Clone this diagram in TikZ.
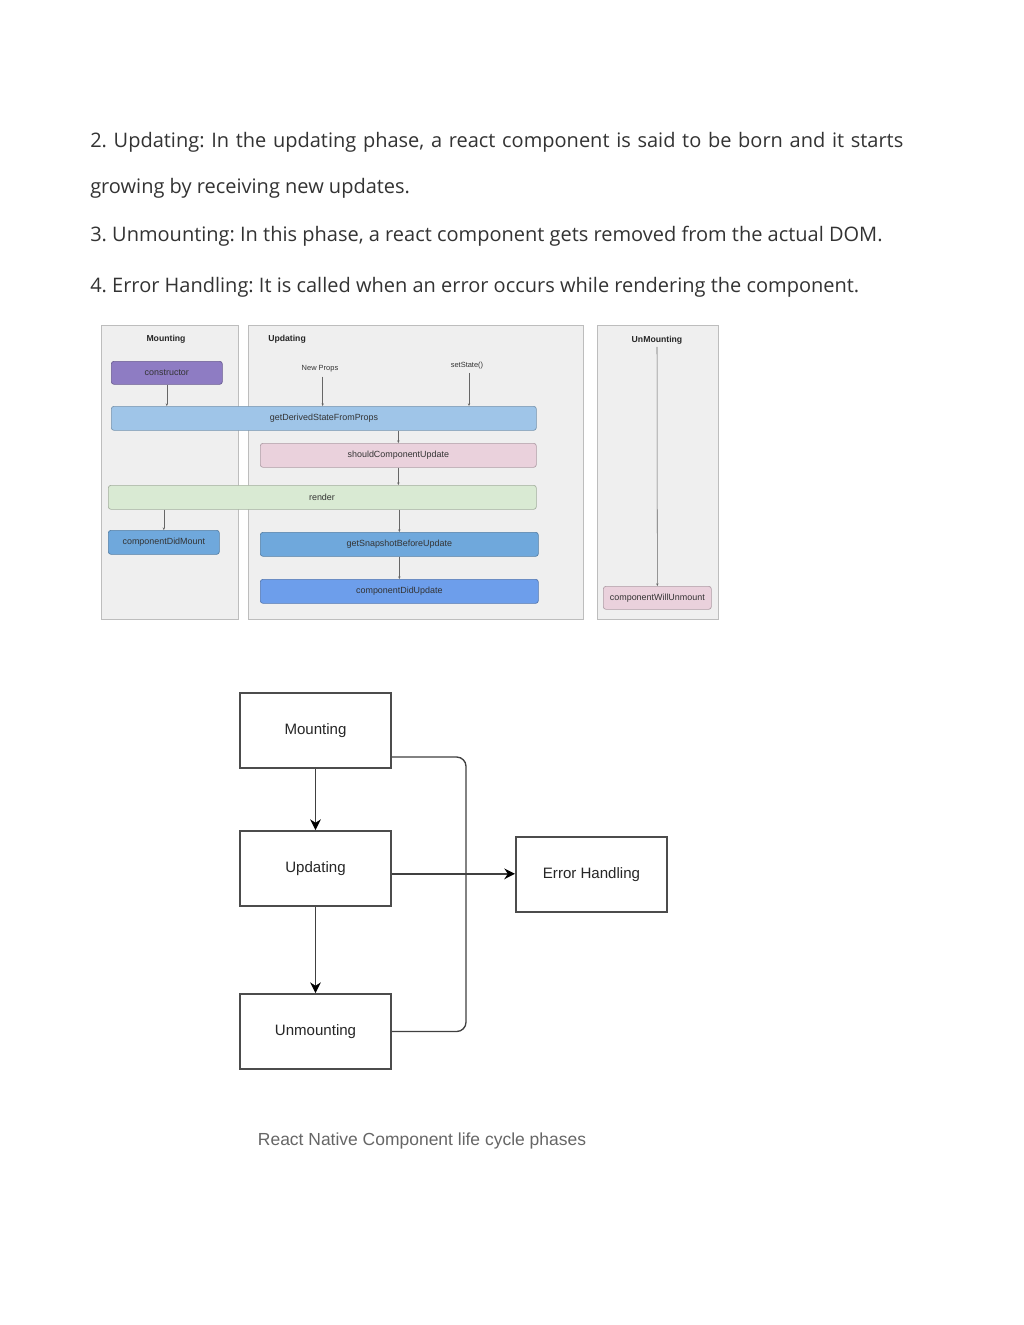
\documentclass[tikz,border=0pt]{standalone}
\usepackage{fontspec}
\setmainfont{Open Sans}
\newfontfamily\arialf{Liberation Sans}
\usetikzlibrary{arrows.meta,calc}
\definecolor{txt}{HTML}{333333}
\definecolor{panelfill}{HTML}{EFEFEF}
\definecolor{paneldraw}{HTML}{BDBDBD}
\definecolor{cpurple}{HTML}{8E7CC3}
\definecolor{clightblue}{HTML}{9FC5E8}
\definecolor{cpink}{HTML}{EAD1DC}
\definecolor{cgreen}{HTML}{D9EAD3}
\definecolor{cblue}{HTML}{6FA8DC}
\definecolor{cblue2}{HTML}{6D9EEB}
\definecolor{capgray}{HTML}{666666}
\frenchspacing
\begin{document}
\begin{tikzpicture}[x=0.75pt,y=-0.75pt,
  para/.style={anchor=base west,inner sep=0pt,text=txt,font=\fontsize{15}{17}\selectfont},
  panel/.style={draw=paneldraw,fill=panelfill,line width=0.6pt,anchor=north west,inner sep=0pt},
  ptitle/.style={font=\arialf\bfseries\fontsize{6.5}{8}\selectfont,text=black!85,inner sep=0pt},
  plabel/.style={font=\arialf\fontsize{5.6}{7}\selectfont,text=txt,inner sep=0pt},
  lbox/.style={rounded corners=2pt,draw=#1!75!black,fill=#1,line width=0.5pt,
     font=\arialf\fontsize{6.7}{8}\selectfont,text=txt,inner sep=0pt,anchor=north west},
  sarr/.style={draw=black!60,line width=0.4pt,-{Stealth[length=2pt,width=1.8pt]}},
  bigbox/.style={draw=black!70,line width=1.5pt,fill=white,anchor=north west,inner sep=0pt,
     minimum width=151*0.75pt,minimum height=75*0.75pt,
     font=\arialf\fontsize{11.3}{13}\selectfont,text=black!85},
  barr/.style={draw=black!75,line width=1pt,-{Stealth[length=8pt,width=8pt,color=black]}},
  bline/.style={draw=black!75,line width=1pt,rounded corners=7pt}
]
\useasboundingbox (0,0) rectangle (1024,1325);
\fill[white] (0,0) rectangle (1024,1325);

% paragraph text
\node[para] (t1) at (90,147) {\makebox[609.75pt][s]{2. Updating: In the updating phase, a react component is said to be born and it starts}};
\node[para] (t2) at (90,193) {growing by receiving new updates.};
\node[para] (t3) at (90,241) {3. Unmounting: In this phase, a react component gets removed from the actual DOM.};
\node[para] (t4) at (90,292) {4. Error Handling: It is called when an error occurs while rendering the component.};

% panels
\node[panel,minimum width=137*0.75pt,minimum height=294*0.75pt] (pm) at (101,325) {};
\node[panel,minimum width=335*0.75pt,minimum height=294*0.75pt] (pu) at (248,325) {};
\node[panel,minimum width=121*0.75pt,minimum height=294*0.75pt] (pum) at (597,325) {};
\node[ptitle] (tm) at (166,339) {Mounting};
\node[ptitle,anchor=west] (tu) at (268,339) {Updating};
\node[ptitle] (tum) at (657,340) {UnMounting};

% lifecycle method boxes
\node[lbox=cpurple,minimum width=111*0.75pt,minimum height=23*0.75pt] (cons) at (111,361) {constructor};
\node[lbox=clightblue,minimum width=425*0.75pt,minimum height=24*0.75pt] (gd) at (111,406) {};
\node[plabel,font=\arialf\fontsize{6.7}{8}\selectfont] (gdt) at (324,418) {getDerivedStateFromProps};
\node[lbox=cpink,minimum width=276*0.75pt,minimum height=24*0.75pt] (scu) at (260,443) {shouldComponentUpdate};
\node[lbox=cgreen,minimum width=428*0.75pt,minimum height=24*0.75pt] (ren) at (108,485) {};
\node[plabel,font=\arialf\fontsize{6.7}{8}\selectfont] (rent) at (322,497) {render};
\node[lbox=cblue,minimum width=111*0.75pt,minimum height=24*0.75pt] (cdm) at (108,530) {componentDidMount};
\node[lbox=cblue,minimum width=278*0.75pt,minimum height=24*0.75pt] (gsb) at (260,532) {getSnapshotBeforeUpdate};
\node[lbox=cblue2,minimum width=278*0.75pt,minimum height=24*0.75pt] (cdu) at (260,579) {componentDidUpdate};
\node[lbox=cpink,minimum width=108*0.75pt,minimum height=23*0.75pt] (cwu) at (603,586) {componentWillUnmount};

\node[plabel] (np) at (320,369) {New Props};
\node[plabel] (ss) at (467,366) {setState()};

% small arrows
\draw[sarr] (cons.south) -- (cons.south |- gd.north);
\draw[sarr] ([xshift=2pt]np.south) ++(0,4) -- ([xshift=2pt]np.south |- gd.north);
\draw[sarr] ([xshift=1.5pt]ss.south) ++(0,3) -- ([xshift=1.5pt]ss.south |- gd.north);
\draw[sarr] (gd.south -| scu.north) -- (scu.north);
\draw[sarr] (scu.south) -- (scu.south |- ren.north);
\draw[sarr] (ren.south -| cdm.north) -- (cdm.north);
\draw[sarr] (ren.south -| gsb.north) -- (gsb.north);
\draw[sarr] (gsb.south) -- (cdu.north);
\draw[sarr] ([yshift=-2pt]tum.south) -- (cwu.north);

% bottom diagram
\node[bigbox] (bm) at (239,692) {Mounting};
\node[bigbox] (bu) at (239,830) {Updating};
\node[bigbox] (bun) at (239,993) {Unmounting};
\node[bigbox] (beh) at (515,836) {Error Handling};
\coordinate (bus) at (466,0);
\draw[barr] (bm.south) -- (bu.north);
\draw[barr] (bu.south) -- (bun.north);
\draw[bline] ([yshift=9pt]bm.south east) -| (bus |- bun.east) -- (bun.east);
\draw[barr] ([yshift=-4pt]bu.east) -- ([yshift=-4pt]bu.east -| beh.west);

\node[inner sep=0pt,font=\arialf\fontsize{13.1}{15}\selectfont,text=capgray] (cap) at (422,1141) {React Native Component life cycle phases};
\end{tikzpicture}
\end{document}
